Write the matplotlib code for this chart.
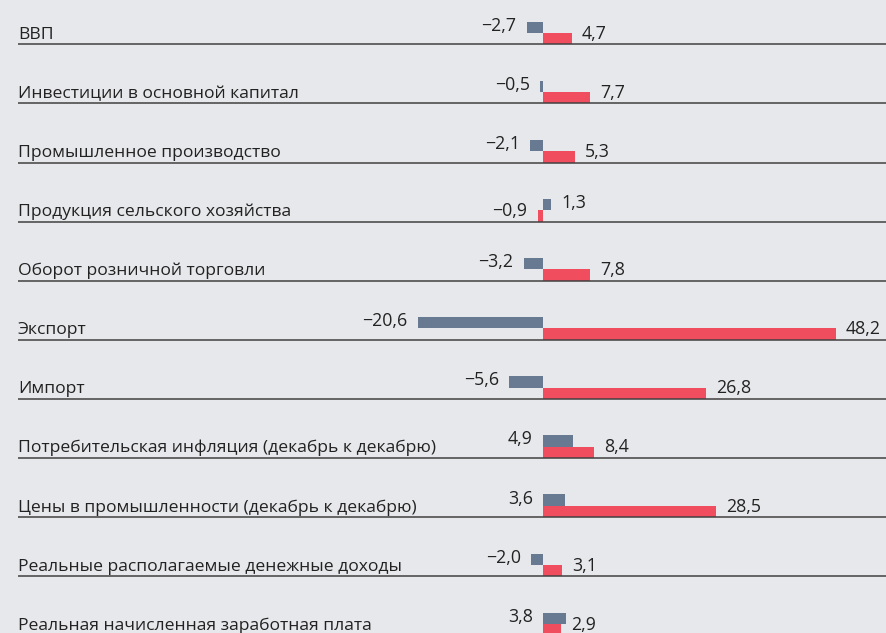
import matplotlib
matplotlib.use("Agg")
import matplotlib.pyplot as plt
import matplotlib.transforms as mtransforms

categories = [
    "ВВП",
    "Инвестиции в основной капитал",
    "Промышленное производство",
    "Продукция сельского хозяйства",
    "Оборот розничной торговли",
    "Экспорт",
    "Импорт",
    "Потребительская инфляция (декабрь к декабрю)",
    "Цены в промышленности (декабрь к декабрю)",
    "Реальные располагаемые денежные доходы",
    "Реальная начисленная заработная плата",
]
values_2020 = [-2.7, -0.5, -2.1, 1.3, -3.2, -20.6, -5.6, 4.9, 3.6, -2.0, 3.8]
values_2021 = [4.7, 7.7, 5.3, -0.9, 7.8, 48.2, 26.8, 8.4, 28.5, 3.1, 2.9]
# which side of the zero line each value label sits on
side_2020 = ["L", "L", "L", "R", "L", "L", "L", "L", "L", "L", "L"]
side_2021 = ["R", "R", "R", "L", "R", "R", "R", "R", "R", "R", "R"]

BG = "#e7e8eb"
GRAY = "#687a91"
RED = "#f04e5f"
TEXT = "#222222"
LINE = "#404040"
FONT = ["Open Sans", "DejaVu Sans"]
FS = 12.6
FSV = 12.8

W, H = 886, 633
fig = plt.figure(figsize=(W / 100, H / 100), dpi=100)
fig.patch.set_facecolor(BG)
ax = fig.add_axes([0, 0, 1, 1])
ax.set_facecolor(BG)

px_per_unit = 6.08
zero_px = 543.0
row_px = 59.1
first_line_px = 44.3
ax.set_xlim(-zero_px / px_per_unit, (W - zero_px) / px_per_unit)
ax.set_ylim((H - first_line_px) / row_px, -first_line_px / row_px)
ax.axis("off")

bar_h = 11.3 / row_px
n = len(categories)
ys = list(range(n))
ax.barh([y - 1.5 * bar_h for y in ys], values_2020, height=bar_h, color=GRAY, zorder=2)
ax.barh([y - 0.5 * bar_h for y in ys], values_2021, height=bar_h, color=RED, zorder=2)

x0_axes = 18 / W
trans_lbl = mtransforms.blended_transform_factory(ax.transAxes, ax.transData)
for y, cat in zip(ys, categories):
    ax.plot([x0_axes, 1.0], [y, y], transform=trans_lbl, color=LINE, lw=1.1,
            zorder=3, solid_capstyle="butt")
    ax.text(x0_axes, y - 5.5 / row_px, cat, transform=trans_lbl, ha="left",
            va="baseline", fontsize=FS, color=TEXT, family=FONT)

def fmt(v):
    s = f"{abs(v):.1f}".replace(".", ",")
    return ("\u2212" if v < 0 else "") + s

gap = 10
for y, v, s in zip(ys, values_2020, side_2020):
    if s == "L":
        ax.annotate(fmt(v), (min(0, v), y - 13.5 / row_px), xytext=(-gap, 0),
                    textcoords="offset pixels", ha="right", va="baseline",
                    fontsize=FSV, color=TEXT, family=FONT)
    else:
        ax.annotate(fmt(v), (max(0, v), y - 13.5 / row_px), xytext=(gap, 0),
                    textcoords="offset pixels", ha="left", va="baseline",
                    fontsize=FSV, color=TEXT, family=FONT)
for y, v, s in zip(ys, values_2021, side_2021):
    if s == "L":
        ax.annotate(fmt(v), (min(0, v), y - 5.5 / row_px), xytext=(-gap, 0),
                    textcoords="offset pixels", ha="right", va="baseline",
                    fontsize=FSV, color=TEXT, family=FONT)
    else:
        ax.annotate(fmt(v), (max(0, v), y - 5.5 / row_px), xytext=(gap, 0),
                    textcoords="offset pixels", ha="left", va="baseline",
                    fontsize=FSV, color=TEXT, family=FONT)

fig.savefig("out.png", dpi=100, facecolor=BG)
